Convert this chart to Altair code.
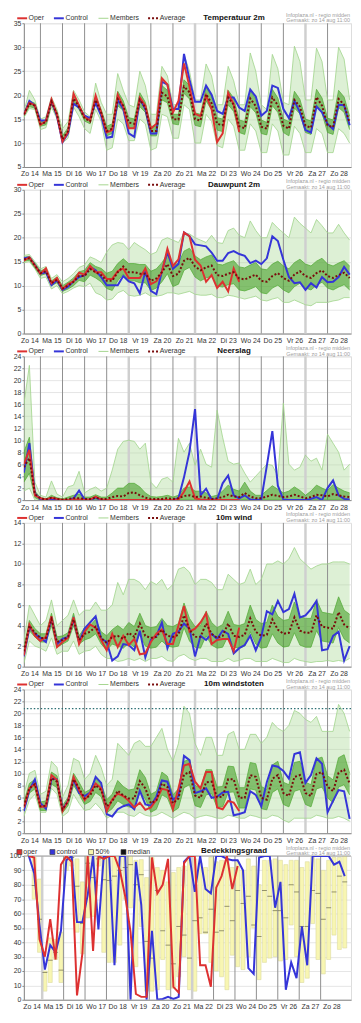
import altair as alt
import pandas as pd

FONT = "Liberation Sans"

# ---------------- time axis (hours after Zo 14 00:00) ----------------
HOURS = list(range(6, 361, 6))
BOX_HOURS = HOURS[1:]
DAY_LABELS = ["Zo 14", "Ma 15", "Di 16", "Wo 17", "Do 18", "Vr 19", "Za 20", "Zo 21",
              "Ma 22", "Di 23", "Wo 24", "Do 25", "Vr 26", "Za 27", "Zo 28"]
GRID_DAYS = list(range(1, 15))
LIGHT_DAYS = [5, 8, 13]
CLOUD_LIGHT_DAYS = [1, 8]
CLOUD_SHIFT_H = -3
LEGEND_NAMES = ["Oper", "Control", "Members", "Average"]
CLOUD_LEGEND = ["oper", "control", "50%", "median"]
HEADER = ["Infoplaza.nl - regio midden", "Gemaakt: zo 14 aug 11:00"]
GUST_WARN = 20.8

# ---------------- Temperatuur 2m ----------------
T_OPER = [15.9, 18.4, 17.9,
          13.8, 14.6, 19.1, 15.9,
          10.3, 12.3, 20.3, 17.8,
          15.4, 14.7, 19.9, 16.4,
          12.2, 12.7, 20.1, 17.6,
          13.1, 13.1, 19.5, 17.8,
          13.0, 14.0, 23.5, 22.2,
          16.4, 18.8, 26.6, 21.8,
          16.1, 15.6, 19.9, 17.1,
          10.2, 12.0, 20.5, 18.1,
          12.3]
T_CTRL = [15.9, 18.8, 17.8,
          14.7, 14.7, 18.8, 15.6,
          10.2, 12.0, 18.2, 17.4,
          15.7, 15.2, 18.4, 15.7,
          11.1, 11.3, 19.0, 17.1,
          12.0, 11.3, 19.3, 17.1,
          12.0, 12.0, 22.8, 22.2,
          17.1, 17.1, 28.6, 23.2,
          18.6, 18.6, 22.0, 20.1,
          16.7, 16.1, 19.5, 19.5,
          17.4, 16.7, 21.2, 19.7,
          15.7, 16.7, 22.0, 21.5,
          17.1, 15.2, 18.8, 16.4,
          12.7, 12.2, 17.6, 16.4,
          14.0, 12.9, 18.0, 17.9,
          13.7]
T_AVG = [16.0, 18.2, 17.8,
         14.0, 14.3, 18.6, 16.0,
         10.8, 12.5, 19.3, 17.5,
         15.2, 14.5, 19.0, 16.3,
         12.5, 13.0, 19.2, 17.8,
         14.3, 14.0, 19.0, 17.4,
         12.5, 12.5, 20.5, 19.7,
         15.0, 14.9, 21.8, 20.6,
         15.0, 14.7, 20.2, 18.3,
         14.0, 13.7, 19.5, 18.0,
         13.5, 13.1, 19.3, 17.7,
         13.4, 13.0, 19.5, 17.9,
         13.6, 13.0, 19.0, 17.6,
         13.6, 13.2, 19.6, 17.8,
         13.7, 13.3, 19.2, 18.0,
         14.2]
T_MX = [16.5, 21.0, 19.0,
        15.0, 15.5, 19.6, 17.0,
        13.0, 14.5, 21.0, 19.0,
        16.5, 15.5, 22.5, 18.5,
        16.0, 16.0, 24.5, 21.0,
        18.0, 17.5, 25.0, 22.0,
        16.0, 16.0, 26.0, 24.0,
        18.0, 18.0, 28.5, 25.0,
        19.0, 19.0, 26.5, 24.0,
        18.0, 18.0, 26.0, 23.0,
        18.0, 18.0, 28.8, 25.0,
        18.0, 17.0, 28.5, 25.5,
        18.5, 18.0, 30.2, 27.0,
        19.0, 19.0, 29.8, 27.0,
        19.0, 19.0, 30.0, 27.5,
        19.0]
T_MN = [15.3, 17.2, 17.0,
        12.8, 13.2, 17.5, 15.0,
        10.0, 11.0, 17.5, 15.5,
        13.0, 12.0, 17.0, 14.5,
        8.5, 9.0, 15.0, 14.0,
        10.5, 10.5, 15.0, 14.0,
        8.5, 9.0, 16.0, 15.5,
        11.0, 11.0, 18.0, 17.0,
        10.0, 10.0, 16.0, 14.5,
        9.5, 9.0, 15.0, 13.5,
        8.5, 8.5, 14.0, 12.5,
        8.0, 8.0, 14.0, 12.5,
        7.5, 7.5, 13.5, 12.0,
        8.0, 8.0, 13.0, 12.0,
        8.0, 8.0, 13.0, 12.0,
        10.0]
T_CHI = [16.2, 18.8, 18.3,
         14.5, 14.8, 19.0, 16.5,
         11.5, 13.2, 20.0, 18.0,
         15.7, 15.0, 19.7, 17.0,
         13.5, 14.0, 20.8, 18.8,
         15.3, 15.0, 20.5, 18.5,
         13.5, 13.5, 22.0, 21.0,
         16.0, 16.0, 23.2, 22.0,
         16.3, 16.0, 21.7, 19.7,
         15.3, 15.0, 21.0, 19.4,
         14.8, 14.5, 21.0, 19.1,
         14.8, 14.3, 21.2, 19.4,
         15.0, 14.5, 20.8, 19.1,
         15.0, 14.6, 21.2, 19.4,
         15.2, 14.8, 21.0, 19.6,
         15.6]
T_CLO = [15.6, 17.6, 17.3,
         13.5, 13.8, 18.1, 15.5,
         10.3, 12.0, 18.5, 17.0,
         14.6, 14.0, 18.3, 15.7,
         11.5, 12.0, 17.8, 16.8,
         13.2, 13.0, 17.6, 16.4,
         11.5, 11.5, 19.0, 18.4,
         14.0, 13.8, 20.4, 19.2,
         13.7, 13.4, 18.8, 16.9,
         12.7, 12.4, 18.0, 16.6,
         12.2, 11.8, 17.6, 16.3,
         12.0, 11.7, 17.8, 16.4,
         12.2, 11.5, 17.3, 16.1,
         12.2, 11.8, 18.0, 16.2,
         12.2, 11.8, 17.4, 16.4,
         12.8]

# ---------------- Dauwpunt 2m ----------------
D_OPER = [15.2, 15.9, 14.2,
          12.5, 13.6, 10.5, 11.6,
          9.3, 10.3, 10.9, 12.7,
          12.3, 14.1, 12.8, 12.8,
          11.4, 11.4, 13.0, 13.6,
          11.6, 11.6, 11.6, 13.6,
          10.3, 10.9, 12.8, 17.7,
          14.1, 15.5, 21.1, 20.3,
          15.4, 14.2, 10.8, 12.2,
          9.5, 10.8, 8.8, 13.6,
          10.8]
D_CTRL = [15.7, 15.9, 14.3,
          12.5, 12.8, 10.1, 11.1,
          9.1, 9.8, 10.9, 11.8,
          12.2, 13.9, 13.2, 11.8,
          10.1, 10.1, 10.1, 12.0,
          10.9, 10.5, 8.4, 13.0,
          8.9, 8.2, 13.0, 17.0,
          13.5, 14.5, 21.1, 20.3,
          18.6, 18.4, 18.2, 16.9,
          15.2, 15.2, 16.8, 17.2,
          16.6, 16.2, 14.7, 15.2,
          14.5, 15.7, 20.3, 19.3,
          15.4, 11.8, 10.5, 10.7,
          9.1, 10.5, 9.6, 11.8,
          10.7, 10.8, 11.8, 13.9,
          12.3]
D_AVG = [15.5, 15.7, 14.2,
         12.6, 13.0, 10.5, 11.2,
         9.4, 10.0, 10.8, 12.0,
         12.0, 13.5, 12.8, 12.2,
         11.0, 11.0, 12.8, 14.0,
         12.8, 12.8, 12.5, 12.5,
         11.0, 11.5, 12.8, 14.5,
         12.0, 12.5, 15.2, 15.8,
         14.0, 13.2, 13.8, 14.2,
         12.2, 12.0, 12.5, 12.8,
         11.5, 11.3, 11.8, 12.3,
         11.0, 10.8, 12.0, 12.6,
         11.6, 11.0, 12.3, 13.0,
         12.0, 11.6, 12.6, 13.2,
         12.0, 11.6, 12.2, 12.7,
         11.6]
D_MX = [16.3, 16.5, 15.0,
        13.5, 14.0, 11.5, 12.3,
        10.8, 11.5, 12.5, 13.8,
        14.3, 16.0, 15.5, 14.8,
        17.0, 18.5, 19.0, 18.8,
        17.5, 19.0, 18.2, 17.5,
        16.5, 17.0, 19.5, 20.0,
        19.5, 19.0, 21.0, 20.8,
        20.0, 19.5, 19.0, 20.5,
        19.0, 18.8, 21.5, 22.0,
        20.5, 20.0, 23.5, 21.5,
        20.0, 20.0, 23.2, 22.0,
        21.0, 20.0, 24.3, 23.0,
        22.0, 21.0, 23.8, 22.5,
        21.0, 21.0, 22.8, 21.0,
        19.5]
D_MN = [14.8, 15.0, 13.5,
        11.5, 11.8, 9.3, 10.0,
        8.3, 8.8, 9.5, 10.0,
        9.8, 10.5, 8.5, 8.0,
        7.0, 7.2, 8.5, 9.0,
        8.0, 7.8, 8.0, 8.5,
        7.8, 7.8, 8.0, 8.5,
        8.5, 8.2, 8.5, 8.8,
        8.2, 8.0, 8.0, 8.2,
        7.5, 7.5, 8.0, 7.8,
        7.5, 7.2, 7.5, 7.8,
        7.0, 6.8, 7.2, 7.5,
        6.5, 6.5, 7.0, 6.5,
        6.0, 5.8, 6.5, 6.5,
        6.5, 6.8, 7.0, 7.5,
        7.5]
D_CHI = [15.9, 16.1, 14.7,
         13.1, 13.5, 11.0, 11.8,
         10.0, 10.7, 11.6, 12.9,
         13.2, 14.8, 14.0, 13.6,
         12.6, 13.0, 14.6, 15.6,
         14.6, 14.6, 14.4, 14.4,
         13.0, 13.5, 14.8, 16.5,
         14.2, 14.7, 17.2, 17.8,
         16.2, 15.4, 16.0, 16.4,
         14.5, 14.3, 14.8, 15.2,
         13.9, 13.7, 14.3, 14.8,
         13.5, 13.3, 14.5, 15.1,
         14.1, 13.5, 14.8, 15.5,
         14.5, 14.1, 15.1, 15.7,
         14.5, 14.1, 14.7, 15.2,
         14.1]
D_CLO = [15.1, 15.3, 13.7,
         12.1, 12.5, 10.0, 10.6,
         8.8, 9.3, 10.0, 11.1,
         10.8, 12.2, 11.6, 10.8,
         9.4, 9.0, 11.0, 12.4,
         11.0, 11.0, 10.6, 10.6,
         9.0, 9.5, 10.8, 12.5,
         9.8, 10.3, 13.2, 13.8,
         11.8, 11.0, 11.6, 12.0,
         9.9, 9.7, 10.2, 10.4,
         9.1, 8.9, 9.3, 9.8,
         8.5, 8.3, 9.5, 10.1,
         9.1, 8.5, 9.8, 10.5,
         9.5, 9.1, 10.1, 10.7,
         9.5, 9.1, 9.7, 10.2,
         9.1]

# ---------------- Neerslag ----------------
P_OPER = [6.0, 8.4, 0.8,
          0.3, 0.1, 0.4, 0.2,
          0.0, 0.0, 0.1, 0.1,
          0.0, 0.1, 0.6, 0.1,
          0.0, 0.0, 0.0, 0.0,
          0.0, 0.0, 0.0, 0.0,
          0.0, 0.0, 0.0, 0.0,
          0.0, 0.1, 1.4, 3.1,
          0.3, 0.1, 0.0, 0.0,
          0.0, 0.0, 0.0, 0.0,
          0.0]
P_CTRL = [4.6, 9.5, 1.1,
          0.1, 0.0, 0.1, 0.0,
          0.0, 0.0, 0.3, 1.6,
          0.1, 0.0, 0.4, 0.0,
          0.0, 0.0, 0.0, 0.0,
          0.0, 0.0, 0.0, 0.0,
          0.0, 0.0, 0.0, 0.0,
          0.0, 0.3, 3.8, 8.1,
          15.2, 0.8, 1.9, 0.1,
          0.1, 2.8, 4.1, 0.8,
          0.3, 0.8, 0.1, 0.0,
          0.1, 5.7, 11.5, 2.4,
          0.1, 0.0, 0.0, 0.0,
          0.0, 0.2, 0.5, 0.0,
          2.0, 3.3, 0.8, 0.2,
          0.1]
P_AVG = [5.5, 7.0, 1.0,
         0.3, 0.1, 0.4, 0.2,
         0.1, 0.2, 0.3, 0.3,
         0.2, 0.2, 0.4, 0.2,
         0.2, 0.5, 0.7, 0.6,
         1.2, 1.3, 0.8, 0.4,
         0.2, 0.2, 0.2, 0.3,
         0.2, 0.3, 0.7, 0.8,
         0.5, 0.6, 0.4, 0.2,
         0.3, 0.5, 0.9, 0.6,
         0.5, 1.2, 0.6, 0.3,
         0.3, 0.6, 0.9, 0.7,
         0.5, 0.6, 0.9, 0.6,
         0.3, 0.5, 0.9, 0.8,
         0.6, 1.0, 0.8, 0.6,
         0.5]
P_MX = [16.0, 22.5, 3.0,
        0.8, 0.5, 3.2, 1.0,
        0.5, 2.2, 2.5, 4.8,
        1.2, 1.8, 2.2, 1.5,
        2.0, 5.0, 8.5, 9.8,
        10.0, 9.8, 8.5, 9.5,
        3.0, 2.0, 3.5, 3.8,
        3.0, 10.3, 8.0, 9.5,
        5.8, 8.5, 6.0, 5.5,
        15.0, 10.5, 6.5, 6.0,
        6.2, 4.5, 3.0, 4.0,
        5.0, 6.0, 5.8, 4.0,
        16.2, 6.0, 5.0, 5.5,
        7.5, 6.5, 7.0, 5.0,
        11.0, 9.5, 8.0, 5.0,
        6.0]
P_MN = [1.5, 2.0, 0.0,
        0.0, 0.0, 0.0, 0.0,
        0.0, 0.0, 0.0, 0.0,
        0.0, 0.0, 0.0, 0.0,
        0.0, 0.0, 0.0, 0.0,
        0.0, 0.0, 0.0, 0.0,
        0.0, 0.0, 0.0, 0.0,
        0.0, 0.0, 0.0, 0.0,
        0.0, 0.0, 0.0, 0.0,
        0.0, 0.0, 0.0, 0.0,
        0.0, 0.0, 0.0, 0.0,
        0.0, 0.0, 0.0, 0.0,
        0.0, 0.0, 0.0, 0.0,
        0.0, 0.0, 0.0, 0.0,
        0.0, 0.0, 0.0, 0.0,
        0.0]
P_CHI = [8.0, 10.5, 1.5,
         0.4, 0.2, 0.8, 0.4,
         0.2, 0.5, 0.8, 1.0,
         0.5, 0.5, 0.9, 0.5,
         0.5, 1.2, 2.0, 2.0,
         2.8, 2.8, 2.2, 1.2,
         0.6, 0.5, 0.6, 0.8,
         0.5, 0.8, 2.0, 2.2,
         1.5, 1.5, 1.2, 0.6,
         0.8, 1.5, 2.5, 1.8,
         1.5, 3.0, 1.5, 0.8,
         0.8, 1.6, 2.4, 1.8,
         1.2, 1.5, 2.2, 1.6,
         0.8, 1.5, 2.5, 2.0,
         1.6, 2.6, 2.0, 1.5,
         1.2]
P_CLO = [3.0, 4.5, 0.4,
         0.0, 0.0, 0.0, 0.0,
         0.0, 0.0, 0.0, 0.0,
         0.0, 0.0, 0.0, 0.0,
         0.0, 0.0, 0.0, 0.0,
         0.0, 0.0, 0.0, 0.0,
         0.0, 0.0, 0.0, 0.0,
         0.0, 0.0, 0.0, 0.0,
         0.0, 0.0, 0.0, 0.0,
         0.0, 0.0, 0.0, 0.0,
         0.0, 0.0, 0.0, 0.0,
         0.0, 0.0, 0.0, 0.0,
         0.0, 0.0, 0.0, 0.0,
         0.0, 0.0, 0.0, 0.0,
         0.0, 0.0, 0.0, 0.0,
         0.0]

# ---------------- 10m wind ----------------
W_OPER = [1.1, 4.1, 3.0,
          2.5, 2.9, 4.9, 1.9,
          2.4, 2.8, 4.8, 2.2,
          3.4, 4.1, 3.8, 2.6,
          1.6, 3.2, 1.9, 3.0,
          2.1, 2.7, 1.2, 1.3,
          2.4, 3.2, 3.6, 2.2,
          2.2, 4.0, 5.9, 3.4,
          3.7, 4.3, 5.2, 2.2,
          2.6, 2.7, 2.7, 1.5,
          3.8]
W_CTRL = [1.0, 3.8, 3.2,
          2.8, 2.4, 4.8, 2.2,
          2.7, 2.9, 4.6, 2.4,
          3.7, 4.3, 4.9, 2.7,
          2.4, 0.6, 1.0, 2.2,
          2.1, 1.6, 3.5, 0.9,
          2.6, 3.0, 4.3, 1.8,
          3.2, 3.4, 4.2, 3.7,
          1.0, 3.0, 2.6, 3.2,
          2.7, 3.5, 3.2, 1.3,
          1.8, 2.1, 3.0, 1.6,
          2.9, 5.4, 5.1, 6.4,
          5.3, 5.6, 7.1, 4.8,
          5.0, 5.6, 6.4, 1.6,
          1.7, 3.0, 3.4, 0.6,
          2.0]
W_AVG = [1.5, 4.0, 3.3,
         2.8, 2.8, 4.6, 2.4,
         2.6, 2.9, 4.6, 2.6,
         3.2, 3.4, 3.9, 2.8,
         2.3, 2.9, 3.0, 2.7,
         3.3, 2.9, 4.2, 3.0,
         2.8, 2.9, 3.6, 3.0,
         2.9, 3.1, 5.0, 3.6,
         2.9, 2.9, 4.2, 3.2,
         2.8, 3.0, 4.2, 3.0,
         2.9, 3.1, 4.7, 3.4,
         3.0, 3.1, 4.6, 3.6,
         3.2, 3.3, 4.8, 3.5,
         3.3, 3.3, 5.0, 3.9,
         3.8, 3.7, 5.3, 4.1,
         3.7]
W_MX = [2.5, 6.0, 5.0,
        4.0, 4.5, 6.5, 4.0,
        4.5, 5.0, 6.5, 5.0,
        5.5, 5.5, 6.3, 5.5,
        5.5, 6.0, 8.2, 7.0,
        8.5, 8.5, 8.2, 7.5,
        8.3, 8.0, 8.5, 7.5,
        8.0, 9.5, 9.7, 9.2,
        8.0, 8.5, 8.5, 8.2,
        7.5, 7.5, 9.0, 8.5,
        8.0, 8.2, 9.5, 8.0,
        8.5, 10.0, 10.0, 10.3,
        10.0, 10.5, 11.6, 10.5,
        10.0, 9.5, 9.8, 10.0,
        10.0, 10.2, 10.2, 10.2,
        10.0]
W_MN = [0.3, 2.5, 2.0,
        1.8, 1.5, 2.8, 1.2,
        1.5, 1.5, 2.5, 1.2,
        1.5, 1.6, 2.0, 1.2,
        0.8, 0.8, 0.5, 0.6,
        0.8, 0.6, 0.8, 0.5,
        0.8, 0.8, 1.0, 0.6,
        0.5, 1.0, 1.2, 0.8,
        0.6, 0.8, 0.8, 0.5,
        0.5, 0.5, 0.8, 0.5,
        0.6, 0.8, 0.8, 0.5,
        0.5, 0.5, 0.8, 0.6,
        0.4, 0.4, 0.8, 0.6,
        0.5, 0.4, 0.5, 0.5,
        0.6, 0.5, 0.6, 0.5,
        0.8]
W_CHI = [1.8, 4.5, 3.7,
         3.2, 3.2, 5.2, 2.9,
         3.0, 3.3, 5.2, 3.0,
         3.8, 4.0, 4.6, 3.4,
         3.0, 3.6, 4.0, 3.6,
         4.3, 3.9, 5.2, 4.0,
         3.8, 3.9, 4.7, 4.0,
         3.9, 4.2, 6.2, 4.7,
         3.9, 4.0, 5.4, 4.3,
         3.8, 4.1, 5.4, 4.1,
         4.0, 4.2, 6.0, 4.6,
         4.2, 4.3, 6.0, 4.9,
         4.5, 4.6, 6.3, 4.9,
         4.7, 4.7, 6.5, 5.3,
         5.2, 5.1, 6.8, 5.5,
         5.1]
W_CLO = [1.2, 3.5, 2.9,
         2.4, 2.4, 4.0, 1.9,
         2.2, 2.5, 4.0, 2.2,
         2.6, 2.8, 3.2, 2.2,
         1.6, 2.2, 2.0, 1.8,
         2.3, 1.9, 3.2, 2.0,
         1.8, 1.9, 2.5, 2.0,
         1.9, 2.0, 3.8, 2.5,
         1.9, 1.8, 3.0, 2.1,
         1.8, 1.9, 3.0, 1.9,
         1.8, 2.0, 3.4, 2.2,
         1.8, 1.9, 3.2, 2.3,
         1.9, 2.0, 3.3, 2.1,
         1.9, 1.9, 3.5, 2.5,
         2.4, 2.3, 3.8, 2.7,
         2.3]

# ---------------- 10m windstoten ----------------
G_OPER = [4.3, 7.5, 8.2,
          4.4, 4.5, 9.7, 8.9,
          3.7, 5.4, 9.4, 7.2,
          5.5, 6.7, 8.3, 7.5,
          3.7, 5.6, 6.6, 6.2,
          5.4, 4.3, 5.1, 3.9,
          4.3, 5.6, 7.4, 7.2,
          4.0, 7.5, 11.3, 11.6,
          8.6, 7.5, 10.2, 10.2,
          4.3, 4.0, 5.4, 5.1,
          3.7]
G_CTRL = [3.7, 7.2, 9.0,
          5.0, 4.1, 9.1, 9.0,
          4.0, 5.4, 9.0, 6.7,
          6.2, 6.8, 9.4, 8.4,
          3.2, 2.8, 4.0, 4.5,
          4.8, 4.0, 7.1, 4.8,
          4.6, 6.1, 8.8, 8.6,
          5.6, 6.2, 12.9, 12.2,
          6.7, 7.0, 7.5, 5.9,
          6.1, 6.8, 6.9, 3.0,
          3.2, 3.5, 7.0, 6.4,
          4.5, 8.5, 11.3, 11.1,
          10.4, 9.1, 13.2, 13.5,
          8.4, 9.7, 12.5, 11.6,
          3.5, 5.4, 7.2, 7.0,
          2.4]
G_AVG = [4.5, 7.5, 8.2,
         4.5, 4.6, 9.2, 8.6,
         4.0, 5.3, 9.0, 7.5,
         5.8, 6.3, 8.0, 7.2,
         4.5, 5.3, 7.1, 6.3,
         5.8, 5.8, 8.7, 7.5,
         5.0, 5.5, 8.3, 7.7,
         5.0, 5.8, 9.8, 10.2,
         6.3, 5.9, 8.5, 8.6,
         6.0, 6.1, 9.0, 9.0,
         5.9, 5.9, 9.7, 9.4,
         5.9, 5.6, 9.1, 9.7,
         6.7, 6.2, 9.4, 9.7,
         6.7, 6.2, 9.9, 10.2,
         7.8, 7.0, 10.1, 10.6,
         8.3]
G_MX = [6.5, 10.0, 10.5,
        6.5, 7.0, 12.0, 11.0,
        6.0, 8.0, 12.5, 12.0,
        9.0, 10.0, 13.0, 11.0,
        8.0, 9.0, 15.0, 14.0,
        13.0, 15.0, 15.5, 14.5,
        14.5, 16.0, 17.5, 14.0,
        12.0, 15.0, 21.2, 20.0,
        15.0, 13.0, 16.0, 16.0,
        13.0, 13.0, 16.5, 17.0,
        14.0, 14.0, 16.5, 16.5,
        15.0, 16.0, 18.5, 17.5,
        17.0, 18.0, 20.5, 20.0,
        19.0, 18.5, 19.5, 17.0,
        17.0, 17.0, 21.5, 20.0,
        17.0]
G_MN = [2.8, 5.5, 6.5,
        3.5, 3.5, 7.5, 6.5,
        2.8, 3.5, 6.5, 5.0,
        3.8, 4.0, 5.0, 4.0,
        2.5, 3.0, 3.5, 3.5,
        3.0, 2.8, 3.5, 3.0,
        2.8, 3.0, 3.5, 3.0,
        2.5, 3.0, 3.5, 3.2,
        2.5, 2.8, 3.0, 2.8,
        2.5, 2.5, 3.0, 2.8,
        2.5, 2.5, 3.0, 2.8,
        2.5, 2.5, 3.0, 2.8,
        2.2, 1.8, 2.5, 2.5,
        2.5, 2.5, 3.0, 2.8,
        2.5, 2.5, 2.8, 2.5,
        2.0]
G_CHI = [5.2, 8.3, 9.0,
         5.2, 5.4, 10.2, 9.6,
         4.6, 6.0, 10.0, 8.5,
         6.8, 7.3, 9.2, 8.3,
         5.6, 6.5, 8.8, 7.8,
         7.2, 7.4, 10.6, 9.3,
         6.5, 7.0, 10.2, 9.5,
         6.4, 7.4, 12.0, 12.3,
         8.0, 7.5, 10.6, 10.6,
         7.7, 7.8, 11.2, 11.1,
         7.6, 7.6, 11.8, 11.6,
         7.8, 7.3, 11.4, 12.0,
         8.5, 8.1, 11.8, 12.0,
         8.5, 8.1, 12.4, 12.7,
         9.6, 8.9, 12.6, 13.1,
         10.0]
G_CLO = [3.8, 6.7, 7.4,
         3.8, 3.8, 8.2, 7.6,
         3.4, 4.6, 8.0, 6.5,
         4.8, 5.3, 6.8, 6.1,
         3.4, 4.1, 5.4, 4.8,
         4.4, 4.2, 6.8, 5.7,
         3.5, 4.0, 6.4, 5.9,
         3.6, 4.2, 7.6, 8.1,
         4.6, 4.3, 6.4, 6.6,
         4.3, 4.4, 6.8, 6.9,
         4.2, 4.2, 7.4, 7.2,
         4.1, 3.9, 6.8, 7.4,
         4.8, 4.4, 7.0, 7.3,
         4.8, 4.4, 7.4, 7.7,
         5.9, 5.1, 7.7, 8.1,
         6.4]

# ---------------- Bedekkingsgraad ----------------
C_OPER = [100, 99, 42,
          30, 56, 28, 94,
          100, 96, 3, 32,
          100, 34, 100, 98,
          100, 100, 90, 72,
          47, 4, 2, 2,
          99, 74, 80, 98,
          9, 5, 95, 100,
          100, 24, 24, 9,
          78, 86, 100, 77,
          93]
C_CTRL = [100, 88, 52,
          21, 38, 33, 48,
          97, 100, 54, 54,
          73, 100, 49, 100,
          100, 24, 100, 100,
          0, 96, 66, 0,
          48, 0, 0.5, 2,
          0.5, 2, 96, 100,
          75, 100, 77, 74,
          100, 100, 98, 97,
          97, 90, 22, 18,
          99, 100, 100, 64,
          82, 7, 26, 15,
          51, 24, 100, 100,
          100, 100, 94, 96,
          86]
C_BOX_HI = [99, 84,
            20, 43, 42, 47,
            100, 100, 98, 82,
            100, 99, 100, 100,
            100, 100, 100, 100,
            100, 97, 97.5, 85,
            99, 92, 90, 82,
            88.5, 92, 93, 97,
            98, 95, 92, 99,
            96, 97, 97, 92,
            96, 90, 98, 93,
            80, 97, 97, 98,
            97, 94, 97, 97,
            92, 96, 99, 98,
            90, 97, 99, 99,
            100]
C_BOX_LO = [70, 33,
            6, 12, 28, 12,
            90, 93, 47, 32,
            57, 58, 93, 33,
            26, 26, 38, 70,
            64, 23, 51, 6,
            6, 7, 28, 7,
            8, 16, 30, 7,
            6, 46, 46, 26,
            20, 16, 7, 31,
            23, 21, 30, 50,
            14, 26, 29, 30,
            27, 28, 52, 30,
            12, 15, 53, 28,
            18, 28, 45, 35,
            36]
C_BOX_MED = [79.5, 56,
             19, 27.5, 33, 20.6,
             98, 99, 79, 53,
             95, 85, 98, 83.5,
             83, 86, 90, 92,
             94, 80, 87, 40.6,
             29, 76, 48, 38,
             25, 51, 45, 29,
             55, 57, 47, 63,
             47, 48, 65, 55,
             76, 67, 72, 52,
             44, 76, 72, 62,
             62, 57, 80, 75,
             51, 51, 76, 74,
             56, 64, 75, 86,
             82]

# ---------------- checks ----------------
for nm, arr in [("T_CTRL", T_CTRL), ("T_AVG", T_AVG), ("T_MX", T_MX), ("T_MN", T_MN), ("T_CHI", T_CHI), ("T_CLO", T_CLO),
                ("D_CTRL", D_CTRL), ("D_AVG", D_AVG), ("D_MX", D_MX), ("D_MN", D_MN), ("D_CHI", D_CHI), ("D_CLO", D_CLO),
                ("P_CTRL", P_CTRL), ("P_AVG", P_AVG), ("P_MX", P_MX), ("P_MN", P_MN), ("P_CHI", P_CHI), ("P_CLO", P_CLO),
                ("W_CTRL", W_CTRL), ("W_AVG", W_AVG), ("W_MX", W_MX), ("W_MN", W_MN), ("W_CHI", W_CHI), ("W_CLO", W_CLO),
                ("G_CTRL", G_CTRL), ("G_AVG", G_AVG), ("G_MX", G_MX), ("G_MN", G_MN), ("G_CHI", G_CHI), ("G_CLO", G_CLO),
                ("C_CTRL", C_CTRL)]:
    assert len(arr) == len(HOURS), (nm, len(arr))
for nm, arr in [("T_OPER", T_OPER), ("D_OPER", D_OPER), ("P_OPER", P_OPER), ("W_OPER", W_OPER), ("G_OPER", G_OPER), ("C_OPER", C_OPER)]:
    assert len(arr) == 40, (nm, len(arr))
for nm, arr in [("C_BOX_HI", C_BOX_HI), ("C_BOX_LO", C_BOX_LO), ("C_BOX_MED", C_BOX_MED)]:
    assert len(arr) == len(BOX_HOURS), (nm, len(arr))

# ---------------- styling ----------------
W, H = 330, 145
XDOM = [6, 361.5]
OPER_C = "#dd3131"
CTRL_C = "#3535d8"
AVG_C = "#7a0c0c"
BAND_C = "#a9d995"
CORE_C = "#47a02a"
EDGE_C = "#a0d48b"
CORE_EDGE_C = "#5aae3e"
TXT_C = "#333333"
ONE = pd.DataFrame({"k": [0]})
XS = alt.Scale(domain=XDOM, nice=False, zero=False)


def x_axis(shift):
    return alt.Axis(values=[24 * d + 12 + shift for d in range(len(DAY_LABELS))],
                    labelExpr=f"{DAY_LABELS}[floor((datum.value + {-shift}) / 24)]",
                    grid=False, ticks=False, domainColor="#888888", labelFont=FONT,
                    labelFontSize=7, labelColor=TXT_C, labelPadding=3, title=None,
                    labelOverlap=False, labelFlush=False)


def y_axis(ticks):
    return alt.Axis(values=ticks, grid=True, gridColor="#e6e6e6", gridWidth=1,
                    domainColor="#888888", tickColor="#888888", tickSize=2,
                    labelFont=FONT, labelFontSize=7, labelColor=TXT_C, labelPadding=1,
                    title=None, labelOverlap=False, labelFlush=False)


def grid_layers(shift, light_days):
    gdf = pd.DataFrame({"day": GRID_DAYS, "light": [d in light_days for d in GRID_DAYS]})
    xa = x_axis(shift)
    base = alt.Chart(gdf).transform_calculate(h=f"datum.day * 24 + ({shift})")
    dark = base.transform_filter("!datum.light").mark_rule(color="#8f8f8f", strokeWidth=1).encode(
        x=alt.X("h:Q", scale=XS, axis=xa))
    light = base.transform_filter("datum.light").mark_rule(color="#cfcfcf", strokeWidth=2.5).encode(
        x=alt.X("h:Q", scale=XS, axis=xa))
    return [dark, light]


def header_layers(title):
    lay = []
    lay.append(alt.Chart(ONE).mark_text(text=title, font=FONT, fontSize=8, fontWeight="bold",
                                        color="#111111", align="center", baseline="middle")
               .encode(x=alt.value(212), y=alt.value(-5)))
    lay.append(alt.Chart(ONE).mark_text(text=HEADER[0], font=FONT, fontSize=5.5, color="#a0a0a0",
                                        align="right", baseline="alphabetic")
               .encode(x=alt.value(W - 1), y=alt.value(-6.5)))
    lay.append(alt.Chart(ONE).mark_text(text=HEADER[1], font=FONT, fontSize=5.5, color="#a0a0a0",
                                        align="right", baseline="alphabetic")
               .encode(x=alt.value(W - 1), y=alt.value(-0.8)))
    return lay


def line_legend():
    lay = []
    samples = [(-6.7, 3.3, OPER_C, 2, None), (30.3, 40.3, CTRL_C, 2, None),
               (75.3, 85.3, "#a5d68f", 1, None), (125.3, 135.3, AVG_C, 2, [2, 2])]
    text_x = [4.8, 42, 87, 137]
    for (a, b, col, sw, dash), tx, name in zip(samples, text_x, LEGEND_NAMES):
        kw = dict(color=col, strokeWidth=sw)
        if dash:
            kw["strokeDash"] = dash
        lay.append(alt.Chart(ONE).mark_rule(**kw).encode(x=alt.value(a), x2=alt.value(b), y=alt.value(-5)))
        lay.append(alt.Chart(ONE).mark_text(text=name, font=FONT, fontSize=7, color=TXT_C,
                                            align="left", baseline="middle")
                   .encode(x=alt.value(tx), y=alt.value(-5)))
    return lay


def line_panel(title, lo, hi, ticks, oper, ctrl, avg, mn, mx, clo, chi, extra=None):
    df = pd.DataFrame({"h": HOURS, "ctrl": ctrl, "avg": avg, "mn": mn, "mx": mx, "clo": clo, "chi": chi})
    odf = pd.DataFrame({"h": HOURS[:len(oper)], "oper": oper})
    ys = alt.Scale(domain=[lo, hi], nice=False, zero=False)
    ya = y_axis(ticks)
    xa = x_axis(0)
    X = alt.X("h:Q", scale=XS, axis=xa)

    def Y(f):
        return alt.Y(f"{f}:Q", scale=ys, axis=ya)

    layers = []
    layers.append(alt.Chart(df).mark_area(color=BAND_C, opacity=0.4, clip=True).encode(x=X, y=Y("mn"), y2="mx:Q"))
    layers += grid_layers(0, LIGHT_DAYS)
    layers.append(alt.Chart(df).mark_line(color=EDGE_C, strokeWidth=0.8, clip=True).encode(x=X, y=Y("mx")))
    layers.append(alt.Chart(df).mark_line(color=EDGE_C, strokeWidth=0.8, clip=True).encode(x=X, y=Y("mn")))
    layers.append(alt.Chart(df).mark_area(color=CORE_C, opacity=0.6, clip=True).encode(x=X, y=Y("clo"), y2="chi:Q"))
    layers.append(alt.Chart(df).mark_line(color=CORE_EDGE_C, strokeWidth=0.8, clip=True).encode(x=X, y=Y("chi")))
    layers.append(alt.Chart(df).mark_line(color=CORE_EDGE_C, strokeWidth=0.8, clip=True).encode(x=X, y=Y("clo")))
    if extra is not None:
        edf = pd.DataFrame({"v": [extra]})
        layers.append(alt.Chart(edf).mark_rule(color="#2c6f73", strokeDash=[1.5, 2], strokeWidth=1.2)
                      .encode(y=Y("v")))
    layers.append(alt.Chart(df).mark_line(color=CTRL_C, strokeWidth=2, clip=True).encode(x=X, y=Y("ctrl")))
    layers.append(alt.Chart(odf).mark_line(color=OPER_C, strokeWidth=2, clip=True).encode(x=X, y=Y("oper")))
    layers.append(alt.Chart(df).mark_line(color=AVG_C, strokeWidth=2, strokeDash=[2, 2], clip=True)
                  .encode(x=X, y=Y("avg")))
    layers += line_legend()
    layers += header_layers(title)
    return alt.layer(*layers).properties(width=W, height=H)


def cloud_panel():
    df = pd.DataFrame({"h": HOURS, "ctrl": C_CTRL})
    odf = pd.DataFrame({"h": HOURS[:len(C_OPER)], "oper": C_OPER})
    bdf = pd.DataFrame({"h": BOX_HOURS, "lo": C_BOX_LO, "hi": C_BOX_HI, "med": C_BOX_MED})
    ys = alt.Scale(domain=[0, 100], nice=False, zero=False)
    ya = y_axis(list(range(0, 101, 10)))
    xa = x_axis(CLOUD_SHIFT_H)
    X = alt.X("h:Q", scale=XS, axis=xa)

    def Y(f):
        return alt.Y(f"{f}:Q", scale=ys, axis=ya)

    layers = []
    layers.append(alt.Chart(bdf).mark_bar(size=4, color="#f8f6ae", stroke="#dcda9c", strokeWidth=0.6,
                                          opacity=0.95, clip=True)
                  .encode(x=X, y=Y("lo"), y2="hi:Q"))
    layers += grid_layers(CLOUD_SHIFT_H, CLOUD_LIGHT_DAYS)
    layers.append(alt.Chart(pd.DataFrame({"v": [100]})).mark_rule(color="#999999", strokeWidth=1)
                  .encode(y=Y("v")))
    layers.append(alt.Chart(bdf).mark_tick(orient="horizontal", size=5, thickness=1, color="#6a684c")
                  .encode(x=X, y=Y("med")))
    layers.append(alt.Chart(df).mark_line(color=CTRL_C, strokeWidth=2, clip=True).encode(x=X, y=Y("ctrl")))
    layers.append(alt.Chart(odf).mark_line(color=OPER_C, strokeWidth=2, clip=True).encode(x=X, y=Y("oper")))
    sq = [(-7, -2, OPER_C), (26.3, 31.3, CTRL_C), (65.3, 70.3, "#f8f6ae"), (98, 103, "#111111")]
    tx = [-0.5, 33, 72.3, 104.5]
    for (a, b, col), t, name in zip(sq, tx, CLOUD_LEGEND):
        layers.append(alt.Chart(ONE).mark_rect(color=col, stroke="#444444", strokeWidth=0.7)
                      .encode(x=alt.value(a), x2=alt.value(b), y=alt.value(-6.5), y2=alt.value(-1.5)))
        layers.append(alt.Chart(ONE).mark_text(text=name, font=FONT, fontSize=7, color=TXT_C,
                                               align="left", baseline="middle")
                      .encode(x=alt.value(t), y=alt.value(-4)))
    layers += header_layers("Bedekkingsgraad")
    return alt.layer(*layers).properties(width=W, height=H)


panels = [
    line_panel("Temperatuur 2m", 5, 35, list(range(5, 36, 5)), T_OPER, T_CTRL, T_AVG, T_MN, T_MX, T_CLO, T_CHI),
    line_panel("Dauwpunt 2m", 0, 30, list(range(0, 31, 5)), D_OPER, D_CTRL, D_AVG, D_MN, D_MX, D_CLO, D_CHI),
    line_panel("Neerslag", 0, 24, list(range(0, 25, 2)), P_OPER, P_CTRL, P_AVG, P_MN, P_MX, P_CLO, P_CHI),
    line_panel("10m wind", 0, 14, list(range(0, 15, 2)), W_OPER, W_CTRL, W_AVG, W_MN, W_MX, W_CLO, W_CHI),
    line_panel("10m windstoten", 0, 24, list(range(0, 25, 2)), G_OPER, G_CTRL, G_AVG, G_MN, G_MX, G_CLO, G_CHI,
               extra=GUST_WARN),
    cloud_panel(),
]

chart = alt.vconcat(*panels, spacing=23, bounds="flush").properties(
    padding={"left": 0, "top": 0, "right": 0, "bottom": 0}
).configure_view(stroke=None).configure(background="white")

chart.save("out.html", embed_options={"renderer": "svg", "actions": False})
